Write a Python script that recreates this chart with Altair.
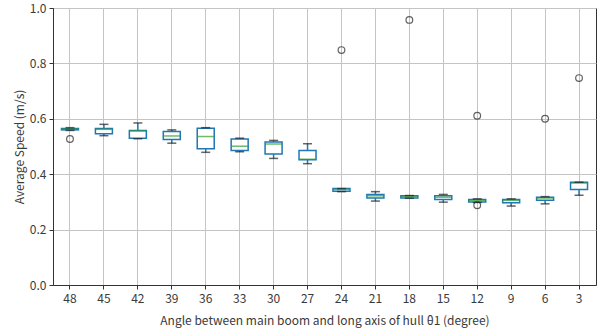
import altair as alt
import pandas as pd

angles = ["48", "45", "42", "39", "36", "33", "30", "27", "24", "21", "18", "15", "12", "9", "6", "3"]
whisk_lo = [0.558, 0.539, 0.528, 0.512, 0.479, 0.481, 0.457, 0.438, 0.337, 0.303, 0.313, 0.299, 0.298, 0.285, 0.293, 0.324]
q1 =       [0.560, 0.546, 0.530, 0.525, 0.492, 0.486, 0.473, 0.452, 0.338, 0.314, 0.314, 0.309, 0.300, 0.297, 0.306, 0.345]
median =   [0.563, 0.562, 0.556, 0.538, 0.536, 0.501, 0.509, 0.454, 0.345, 0.322, 0.319, 0.317, 0.305, 0.306, 0.314, 0.368]
q3 =       [0.565, 0.565, 0.558, 0.554, 0.566, 0.527, 0.516, 0.486, 0.348, 0.327, 0.322, 0.322, 0.309, 0.309, 0.317, 0.371]
whisk_hi = [0.568, 0.580, 0.585, 0.560, 0.568, 0.530, 0.522, 0.510, 0.348, 0.337, 0.323, 0.327, 0.311, 0.311, 0.319, 0.371]

outlier_angle = ["48", "24", "18", "12", "12", "6", "3"]
outlier_value = [0.527, 0.848, 0.957, 0.611, 0.288, 0.600, 0.747]

stats = pd.DataFrame({
    "angle": angles, "lo": whisk_lo, "q1": q1, "med": median, "q3": q3, "hi": whisk_hi,
})
outliers = pd.DataFrame({"angle": outlier_angle, "v": outlier_value})

FONT = "Noto Sans CJK SC"
BLUE = "#1f77b4"
GREEN = "#2ca02c"

x_enc = alt.X(
    "angle:N", sort=angles,
    scale=alt.Scale(paddingInner=0, paddingOuter=0),
    axis=alt.Axis(title="Angle between main boom and long axis of hull θ1 (degree)",
                  labelAngle=0, grid=True, bandPosition=0.5),
)
y_scale = alt.Scale(domain=[0, 1])
y_axis = alt.Axis(title="Average Speed (m/s)", values=[0, 0.2, 0.4, 0.6, 0.8, 1.0],
                  format=".1f", grid=True)

base = alt.Chart(stats)

whisk_low = base.mark_rule(color=BLUE, strokeWidth=1.5).encode(
    x=x_enc, y=alt.Y("lo:Q", scale=y_scale, axis=y_axis), y2="q1:Q")
whisk_high = base.mark_rule(color=BLUE, strokeWidth=1.5).encode(
    x=x_enc, y=alt.Y("q3:Q", scale=y_scale, axis=y_axis), y2="hi:Q")
box = base.mark_bar(size=17, fill="white", stroke=BLUE, strokeWidth=1.5).encode(
    x=x_enc, y=alt.Y("q1:Q", scale=y_scale, axis=y_axis), y2="q3:Q")
med = base.mark_tick(size=17, thickness=1.5, color=GREEN).encode(
    x=x_enc, y=alt.Y("med:Q", scale=y_scale, axis=y_axis))
cap_lo = base.mark_tick(size=9, thickness=1.5, color="#222222").encode(
    x=x_enc, y=alt.Y("lo:Q", scale=y_scale, axis=y_axis))
cap_hi = base.mark_tick(size=9, thickness=1.5, color="#222222").encode(
    x=x_enc, y=alt.Y("hi:Q", scale=y_scale, axis=y_axis))
pts = alt.Chart(outliers).mark_point(shape="circle", filled=False, color="#222222",
                                     size=45, strokeWidth=1.2).encode(
    x=x_enc, y=alt.Y("v:Q", scale=y_scale, axis=y_axis))

chart = alt.layer(whisk_low, whisk_high, box, med, cap_lo, cap_hi, pts).properties(
    width=543, height=277,
    padding={"left": 53, "top": 8, "right": 6, "bottom": 43},
    autosize=alt.AutoSizeParams(type="none"),
).configure_view(
    stroke="#333333", strokeWidth=1
).configure_axis(
    labelFont=FONT, titleFont=FONT, labelFontSize=12, titleFontSize=12,
    labelColor="#3a3a3a", titleColor="#3a3a3a", titleFontWeight="normal",
    gridColor="#c4c4c4", gridWidth=1, domainColor="#333333", tickColor="#333333",
    tickSize=4, labelPadding=3,
).configure_axisX(titlePadding=11, labelPadding=4).configure_axisY(titlePadding=3)

chart.save("out.html", embed_options={"renderer": "svg", "actions": False})
